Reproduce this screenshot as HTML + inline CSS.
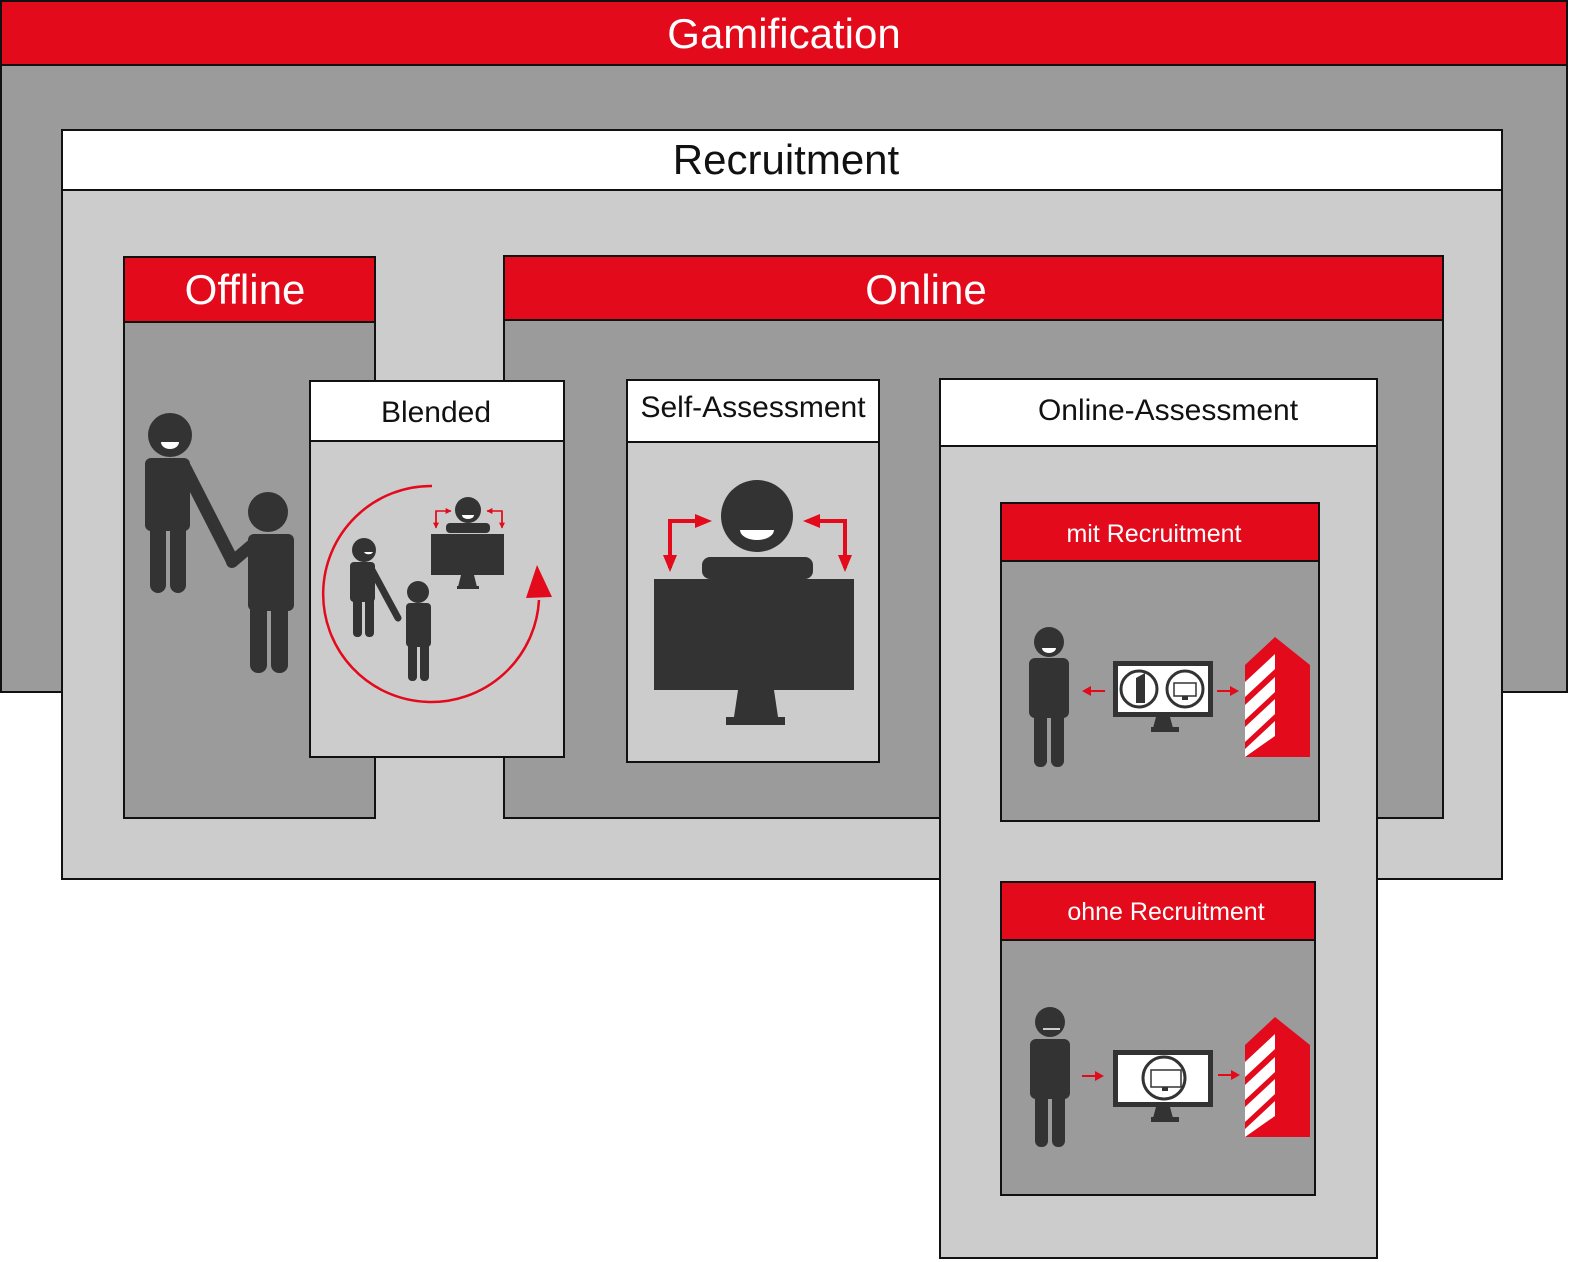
<!DOCTYPE html>
<html><head><meta charset="utf-8"><style>
html,body{margin:0;padding:0;background:#fff;}
svg{display:block;}
text{font-family:"Liberation Sans",sans-serif;}
</style></head><body>
<svg width="1571" height="1262" viewBox="0 0 1571 1262" xmlns="http://www.w3.org/2000/svg">
<defs>
<marker id="ah" viewBox="0 0 10 10" refX="9" refY="5" markerWidth="4" markerHeight="4" orient="auto" markerUnits="strokeWidth"><path d="M0,0 L10,5 L0,10 z" fill="#e20a1b"/></marker>
<g id="bld">
<polygon points="0,28 30,0 65,28 65,120 0,120" fill="#e20a1b"/>
<polygon points="0,45 30,17 30,32 0,60" fill="#fff"/>
<polygon points="0,68 30,40 30,55 0,83" fill="#fff"/>
<polygon points="0,90 30,62 30,77 0,105" fill="#fff"/>
<polygon points="0,112 30,84 30,99 0,120 0,120" fill="#fff"/>
</g>
</defs>
<!-- Gamification -->
<rect x="1" y="1" width="1566" height="691" fill="#9b9b9b" stroke="#111" stroke-width="2"/>
<rect x="1" y="1" width="1566" height="64" fill="#e20a1b" stroke="#111" stroke-width="2"/>
<text x="784" y="48" font-size="42" fill="#fff" text-anchor="middle">Gamification</text>
<!-- Recruitment -->
<rect x="62" y="130" width="1440" height="749" fill="#cccccc" stroke="#111" stroke-width="2"/>
<rect x="62" y="130" width="1440" height="60" fill="#fff" stroke="#111" stroke-width="2"/>
<text x="786" y="174" font-size="42" fill="#111" text-anchor="middle">Recruitment</text>
<!-- Offline -->
<rect x="124" y="257" width="251" height="561" fill="#9b9b9b" stroke="#111" stroke-width="2"/>
<rect x="124" y="257" width="251" height="65" fill="#e20a1b" stroke="#111" stroke-width="2"/>
<text x="245" y="304" font-size="42" fill="#fff" text-anchor="middle">Offline</text>
<!-- offline people -->
<g fill="#333">
<circle cx="170" cy="435" r="22"/>
<rect x="145" y="458" width="45" height="73" rx="6"/>
<rect x="150" y="520" width="16" height="73" rx="8"/>
<rect x="170" y="520" width="16" height="73" rx="8"/>
<line x1="185" y1="468" x2="232" y2="560" stroke="#333" stroke-width="13" stroke-linecap="round"/>
<circle cx="268" cy="512" r="20"/>
<rect x="248" y="534" width="46" height="77" rx="6"/>
<rect x="250" y="600" width="17" height="73" rx="8"/>
<rect x="271" y="600" width="17" height="73" rx="8"/>
<line x1="252" y1="545" x2="232" y2="562" stroke="#333" stroke-width="12" stroke-linecap="round"/>
</g>
<path d="M161,442 h18 a9,7 0 0 1 -18,0z" fill="#fff"/>
<!-- Online -->
<rect x="504" y="256" width="939" height="562" fill="#9b9b9b" stroke="#111" stroke-width="2"/>
<rect x="504" y="256" width="939" height="64" fill="#e20a1b" stroke="#111" stroke-width="2"/>
<text x="926" y="304" font-size="42" fill="#fff" text-anchor="middle">Online</text>
<!-- Blended -->
<rect x="310" y="381" width="254" height="376" fill="#cccccc" stroke="#111" stroke-width="2"/>
<rect x="310" y="381" width="254" height="60" fill="#fff" stroke="#111" stroke-width="2"/>
<text x="436" y="422" font-size="30" fill="#111" text-anchor="middle">Blended</text>
<path d="M432,486 A108,108 0 1 0 539,600" fill="none" stroke="#e20a1b" stroke-width="2.5"/>
<polygon points="526,598 537,565 552,597" fill="#e20a1b"/>
<g fill="#333">
<circle cx="364" cy="550" r="12"/>
<rect x="350" y="562" width="25" height="40" rx="4"/>
<rect x="353" y="595" width="9" height="42" rx="4"/>
<rect x="365" y="595" width="9" height="42" rx="4"/>
<line x1="372" y1="570" x2="398" y2="618" stroke="#333" stroke-width="7" stroke-linecap="round"/>
<circle cx="418" cy="592" r="11"/>
<rect x="406" y="603" width="25" height="44" rx="4"/>
<rect x="408" y="640" width="9" height="41" rx="4"/>
<rect x="420" y="640" width="9" height="41" rx="4"/>
<circle cx="468" cy="510" r="13"/>
<rect x="446" y="523" width="44" height="10" rx="4"/>
<rect x="431" y="534" width="73" height="41"/>
<polygon points="461,575 474,575 477,587 458,587"/>
<rect x="457" y="586" width="22" height="3"/>
</g>
<path d="M462,515 h12 a6,4 0 0 1 -12,0z" fill="#fff"/>
<path d="M364,552 h9 a5,4 0 0 1 -9,0z" fill="#fff"/>
<g stroke="#e20a1b" stroke-width="1.5" fill="none">
<polyline points="436,526 436,511 451,511" marker-end="url(#ah)"/>
<polyline points="502,526 502,511 487,511" marker-end="url(#ah)"/>
<polyline points="436,511 436,528" marker-end="url(#ah)"/>
<polyline points="502,511 502,528" marker-end="url(#ah)"/>
</g>
<!-- Self-Assessment -->
<rect x="627" y="380" width="252" height="382" fill="#cccccc" stroke="#111" stroke-width="2"/>
<rect x="627" y="380" width="252" height="62" fill="#fff" stroke="#111" stroke-width="2"/>
<text x="753" y="417" font-size="30" fill="#111" text-anchor="middle">Self-Assessment</text>
<g fill="#333">
<circle cx="757" cy="516" r="36"/>
<rect x="702" y="557" width="111" height="22" rx="8"/>
<rect x="654" y="579" width="200" height="111"/>
<polygon points="738,690 774,690 778,717 734,717"/>
<rect x="726" y="717" width="59" height="8"/>
</g>
<path d="M740,530 h34 a17,10 0 0 1 -34,0z" fill="#fff"/>
<g stroke="#e20a1b" stroke-width="4" fill="none">
<polyline points="670,568 670,521 700,521"/>
<polyline points="845,568 845,521 815,521"/>
</g>
<g fill="#e20a1b">
<polygon points="695,514 712,521 695,528"/>
<polygon points="820,514 803,521 820,528"/>
<polygon points="663,555 677,555 670,572"/>
<polygon points="838,555 852,555 845,572"/>
</g>
<!-- Online-Assessment -->
<rect x="940" y="379" width="437" height="879" fill="#cccccc" stroke="#111" stroke-width="2"/>
<rect x="940" y="379" width="437" height="67" fill="#fff" stroke="#111" stroke-width="2"/>
<text x="1168" y="420" font-size="30" fill="#111" text-anchor="middle">Online-Assessment</text>
<!-- mit Recruitment -->
<rect x="1001" y="503" width="318" height="318" fill="#9b9b9b" stroke="#111" stroke-width="2"/>
<rect x="1001" y="503" width="318" height="58" fill="#e20a1b" stroke="#111" stroke-width="2"/>
<text x="1154" y="542" font-size="25" fill="#fff" text-anchor="middle">mit Recruitment</text>
<g fill="#333">
<circle cx="1049" cy="642" r="15"/>
<rect x="1029" y="658" width="40" height="60" rx="6"/>
<rect x="1034" y="700" width="13" height="67" rx="6"/>
<rect x="1051" y="700" width="13" height="67" rx="6"/>
<rect x="1113" y="661" width="100" height="56"/>
<polygon points="1156,717 1170,717 1173,728 1153,728"/>
<rect x="1151" y="727" width="28" height="5"/>
</g>
<path d="M1042,648 h14 a7,5 0 0 1 -14,0z" fill="#fff"/>
<rect x="1118" y="666" width="90" height="46" fill="#fff"/>
<circle cx="1139" cy="689" r="18" fill="none" stroke="#333" stroke-width="3"/>
<polygon points="1136,678 1145,673 1145,703 1136,703" fill="#333"/>
<circle cx="1185" cy="689" r="18" fill="none" stroke="#333" stroke-width="3"/>
<rect x="1174" y="683" width="22" height="13" fill="none" stroke="#333" stroke-width="1.5"/>
<rect x="1182" y="696" width="6" height="4" fill="#333"/>
<line x1="1105" y1="691" x2="1088" y2="691" stroke="#e20a1b" stroke-width="2"/>
<polygon points="1082,691 1091,686 1091,696" fill="#e20a1b"/>
<line x1="1217" y1="691" x2="1232" y2="691" stroke="#e20a1b" stroke-width="2"/>
<polygon points="1239,691 1230,686 1230,696" fill="#e20a1b"/>
<use href="#bld" x="1245" y="637"/>
<!-- ohne Recruitment -->
<rect x="1001" y="882" width="314" height="313" fill="#9b9b9b" stroke="#111" stroke-width="2"/>
<rect x="1001" y="882" width="314" height="58" fill="#e20a1b" stroke="#111" stroke-width="2"/>
<text x="1166" y="920" font-size="25" fill="#fff" text-anchor="middle">ohne Recruitment</text>
<g fill="#333">
<circle cx="1050" cy="1022" r="15"/>
<rect x="1030" y="1039" width="40" height="60" rx="6"/>
<rect x="1035" y="1080" width="13" height="67" rx="6"/>
<rect x="1052" y="1080" width="13" height="67" rx="6"/>
<rect x="1113" y="1050" width="100" height="57"/>
<polygon points="1156,1107 1170,1107 1173,1118 1153,1118"/>
<rect x="1151" y="1117" width="28" height="5"/>
</g>
<line x1="1043" y1="1029" x2="1060" y2="1029" stroke="#fff" stroke-width="1.5"/>
<rect x="1118" y="1055" width="90" height="47" fill="#fff"/>
<circle cx="1164" cy="1078" r="21" fill="none" stroke="#333" stroke-width="3"/>
<rect x="1151" y="1070" width="30" height="17" fill="none" stroke="#333" stroke-width="1.5"/>
<rect x="1162" y="1087" width="6" height="4" fill="#333"/>
<line x1="1082" y1="1076" x2="1097" y2="1076" stroke="#e20a1b" stroke-width="2"/>
<polygon points="1104,1076 1095,1071 1095,1081" fill="#e20a1b"/>
<line x1="1218" y1="1075" x2="1232" y2="1075" stroke="#e20a1b" stroke-width="2"/>
<polygon points="1240,1075 1231,1070 1231,1080" fill="#e20a1b"/>
<use href="#bld" x="1245" y="1017"/>
</svg>
</body></html>
